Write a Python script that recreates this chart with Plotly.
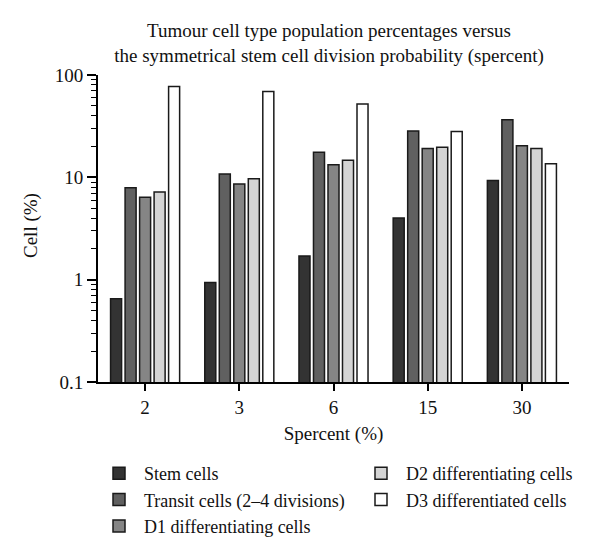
import plotly.graph_objects as go

categories = ["2", "3", "6", "15", "30"]
stem = [0.65, 0.94, 1.7, 4.0, 9.3]
transit = [7.9, 10.8, 17.6, 28.4, 36.6]
d1 = [6.4, 8.6, 13.3, 19.1, 20.3]
d2 = [7.2, 9.7, 14.7, 19.7, 19.1]
d3 = [77, 69, 52, 28, 13.6]
minor_ticks = [m * d for d in (0.1, 1, 10) for m in range(2, 10)]

series = [
    ("Stem cells", stem, "#333333", "legend"),
    ("Transit cells (2\u20134 divisions)", transit, "#606060", "legend"),
    ("D1 differentiating cells", d1, "#858585", "legend"),
    ("D2 differentiating cells", d2, "#d4d4d4", "legend2"),
    ("D3 differentiated cells", d3, "#ffffff", "legend2"),
]

FONT = "Liberation Serif"
OFF = 8  # page body offset
fig = go.Figure()
for name, vals, color, lg in series:
    fig.add_trace(go.Bar(
        x=categories, y=vals, name=name, legend=lg,
        marker=dict(color=color, line=dict(color="#1a1a1a", width=1.5)),
    ))

fig.update_layout(
    width=600, height=555,
    margin=dict(l=98 - OFF, r=31 + OFF, t=75 - OFF, b=173 + OFF, autoexpand=False),
    paper_bgcolor="white", plot_bgcolor="white",
    font=dict(family=FONT, size=19, color="#111111"),
    barmode="group", bargap=0.23, bargroupgap=0.24,
    title=dict(
        text="Tumour cell type population percentages versus<br>the symmetrical stem cell division probability (spercent)",
        x=(329 - OFF) / 600, xref="container", xanchor="center",
        y=1 - (37 - OFF) / 555, yref="container", yanchor="middle",
        font=dict(family=FONT, size=19, color="#111111"),
    ),
    legend=dict(
        x=(94 - OFF) / 600, xref="container", xanchor="left",
        y=1 - (455 - OFF) / 555, yref="container", yanchor="top",
        font=dict(family=FONT, size=18), bgcolor="rgba(0,0,0,0)",
        itemwidth=40, tracegroupgap=0,
    ),
    legend2=dict(
        x=(356 - OFF) / 600, xref="container", xanchor="left",
        y=1 - (455 - OFF) / 555, yref="container", yanchor="top",
        font=dict(family=FONT, size=18), bgcolor="rgba(0,0,0,0)",
        itemwidth=40, tracegroupgap=0,
    ),
    annotations=[dict(
        text="Cell (%)", textangle=-90, showarrow=False,
        xref="paper", yref="paper",
        x=(31 - 98) / 471, y=(382 - 226) / 307,
        xanchor="center", yanchor="middle",
        font=dict(family=FONT, size=19, color="#111111"),
    )],
)

fig.update_xaxes(
    type="category", range=[-0.5, 4.5],
    showline=True, linecolor="black", linewidth=2,
    ticks="outside", ticklen=7, tickwidth=1.5, tickcolor="black",
    showgrid=False, zeroline=False,
    title=dict(text="Spercent (%)", standoff=10, font=dict(family=FONT, size=19)),
)
fig.update_yaxes(
    type="log", range=[-1, 2], dtick=1,
    showline=True, linecolor="black", linewidth=2,
    ticks="outside", ticklen=9, tickwidth=1.5, tickcolor="black",
    showgrid=False, zeroline=False,
    minor=dict(ticks="outside", ticklen=5, tickwidth=1, tickcolor="black",
               tickmode="array", tickvals=minor_ticks, showgrid=False),
)

fig.write_html("out.html")
